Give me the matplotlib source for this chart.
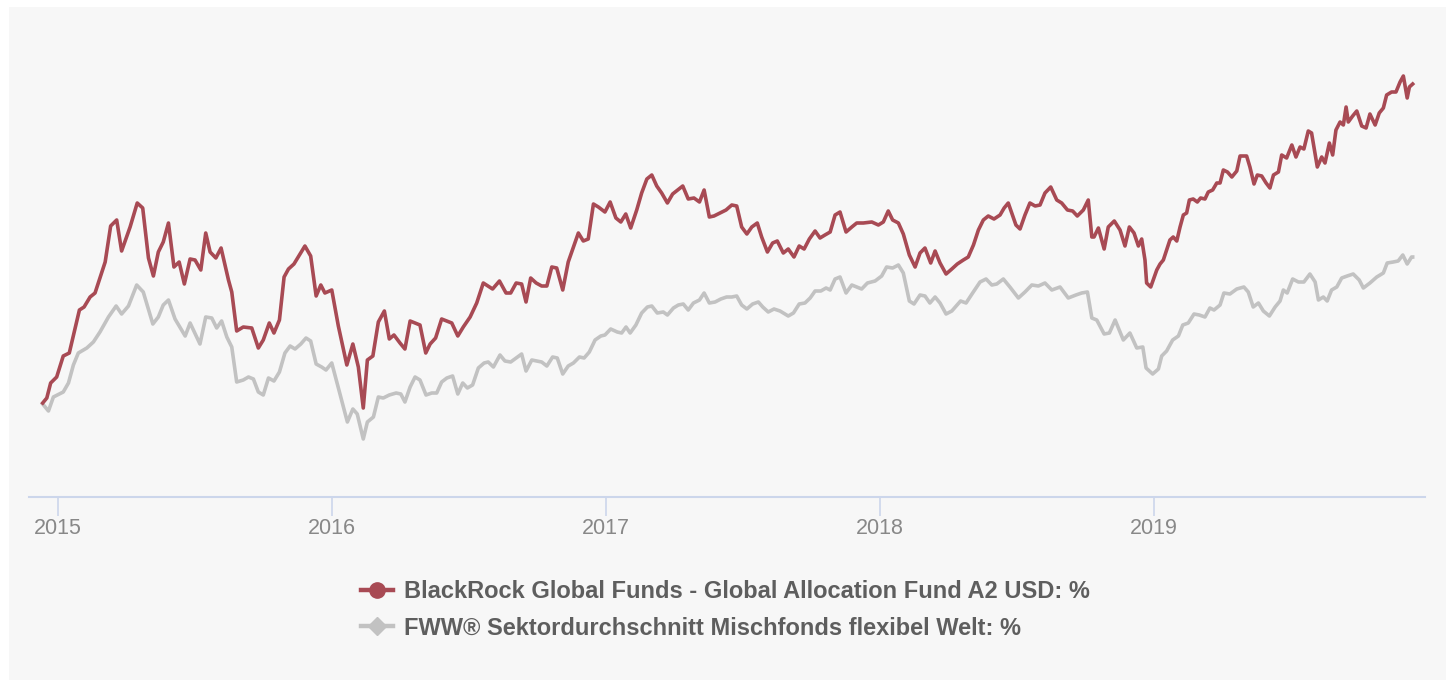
"""
BlackRock Global Allocation vs. FWW sector average, performance in %
"""
import matplotlib.pyplot as plt
from matplotlib.lines import Line2D
from matplotlib.patches import Rectangle

plt.rcParams.update({
    'font.family': ['Liberation Sans', 'DejaVu Sans'],
    'figure.dpi': 100,
})

RED = '#a84a54'
GREY = '#c2c2c2'
AXIS = '#ccd6eb'
PANEL = '#f7f7f7'

# Data (time as decimal year, value in %)
blackrock_t = [
    2014.944, 2014.959, 2014.973, 2014.995, 2015.019, 2015.041, 2015.078, 2015.095, 2015.117, 2015.135,
    2015.172, 2015.192, 2015.214, 2015.232, 2015.263, 2015.289, 2015.309, 2015.330, 2015.348, 2015.366,
    2015.384, 2015.403, 2015.423, 2015.442, 2015.461, 2015.482, 2015.500, 2015.521, 2015.539, 2015.555,
    2015.576, 2015.595, 2015.622, 2015.634, 2015.652, 2015.676, 2015.707, 2015.731, 2015.749, 2015.771,
    2015.788, 2015.808, 2015.825, 2015.841, 2015.861, 2015.881, 2015.901, 2015.922, 2015.942, 2015.959,
    2015.974, 2015.999, 2016.023, 2016.054, 2016.076, 2016.096, 2016.114, 2016.129, 2016.149, 2016.169,
    2016.191, 2016.209, 2016.226, 2016.248, 2016.266, 2016.285, 2016.321, 2016.342, 2016.358, 2016.378,
    2016.400, 2016.437, 2016.459, 2016.479, 2016.504, 2016.528, 2016.552, 2016.586, 2016.611, 2016.635,
    2016.652, 2016.672, 2016.692, 2016.708, 2016.725, 2016.745, 2016.765, 2016.784, 2016.802, 2016.820,
    2016.842, 2016.862, 2016.881, 2016.899, 2016.917, 2016.935, 2016.954, 2016.972, 2016.996, 2017.015,
    2017.036, 2017.054, 2017.072, 2017.090, 2017.112, 2017.130, 2017.149, 2017.167, 2017.185, 2017.203,
    2017.224, 2017.243, 2017.280, 2017.300, 2017.321, 2017.341, 2017.358, 2017.377, 2017.394, 2017.416,
    2017.438, 2017.459, 2017.477, 2017.495, 2017.514, 2017.532, 2017.552, 2017.568, 2017.589, 2017.608,
    2017.625, 2017.647, 2017.665, 2017.686, 2017.705, 2017.723, 2017.742, 2017.763, 2017.781, 2017.799,
    2017.818, 2017.836, 2017.854, 2017.876, 2017.897, 2017.915, 2017.939, 2017.970, 2017.994, 2018.012,
    2018.030, 2018.046, 2018.067, 2018.085, 2018.107, 2018.128, 2018.146, 2018.164, 2018.185, 2018.201,
    2018.219, 2018.241, 2018.262, 2018.282, 2018.304, 2018.322, 2018.341, 2018.359, 2018.377, 2018.395,
    2018.416, 2018.438, 2018.453, 2018.468, 2018.496, 2018.511, 2018.529, 2018.547, 2018.566, 2018.584,
    2018.602, 2018.623, 2018.645, 2018.663, 2018.684, 2018.703, 2018.720, 2018.742, 2018.760, 2018.773,
    2018.781, 2018.797, 2018.818, 2018.833, 2018.855, 2018.876, 2018.894, 2018.910, 2018.927, 2018.943,
    2018.955, 2018.967, 2018.973, 2018.988, 2018.997, 2019.010, 2019.022, 2019.034, 2019.046, 2019.058,
    2019.070, 2019.083, 2019.095, 2019.107, 2019.119, 2019.129, 2019.143, 2019.158, 2019.170, 2019.186,
    2019.198, 2019.214, 2019.229, 2019.241, 2019.253, 2019.268, 2019.284, 2019.302, 2019.314, 2019.338,
    2019.350, 2019.365, 2019.377, 2019.393, 2019.409, 2019.423, 2019.436, 2019.454, 2019.466, 2019.484,
    2019.503, 2019.518, 2019.533, 2019.547, 2019.563, 2019.575, 2019.596, 2019.612, 2019.624, 2019.640,
    2019.652, 2019.664, 2019.679, 2019.691, 2019.701, 2019.709, 2019.725, 2019.740, 2019.758, 2019.774,
    2019.788, 2019.807, 2019.822, 2019.837, 2019.849, 2019.867, 2019.883, 2019.898, 2019.910, 2019.924,
    2019.932, 2019.944,
]
blackrock_pct = [
    0.0, 0.5, 2.0, 2.6, 4.7, 5.0, 9.3, 9.6, 10.6, 11.0,
    14.1, 17.7, 18.3, 15.2, 17.6, 20.0, 19.5, 14.5, 12.7, 15.1,
    16.1, 18.0, 13.6, 14.1, 11.9, 14.4, 14.3, 13.3, 17.0, 15.1,
    14.5, 15.5, 12.3, 11.1, 7.2, 7.6, 7.5, 5.5, 6.3, 8.0,
    7.0, 8.3, 12.6, 13.4, 13.9, 14.8, 15.7, 14.7, 10.7, 11.8,
    11.0, 11.3, 7.7, 3.8, 5.9, 3.6, -0.5, 4.3, 4.7, 8.1,
    9.2, 6.4, 6.8, 6.0, 5.4, 8.2, 7.8, 5.0, 5.9, 6.5,
    8.4, 8.0, 6.7, 7.6, 8.6, 10.0, 12.0, 11.4, 12.2, 11.0,
    11.0, 12.0, 11.9, 10.1, 12.5, 12.0, 11.7, 11.7, 13.6, 13.5,
    11.3, 14.1, 15.6, 17.0, 16.2, 16.4, 19.9, 19.6, 19.1, 20.1,
    18.5, 18.1, 18.9, 17.5, 19.3, 21.0, 22.4, 22.8, 21.7, 21.0,
    20.0, 20.9, 21.7, 20.4, 20.5, 20.1, 21.3, 18.6, 18.7, 19.0,
    19.3, 19.8, 19.7, 17.6, 16.9, 17.6, 18.0, 16.6, 15.1, 16.0,
    16.2, 15.0, 15.4, 14.6, 15.7, 15.4, 16.4, 17.2, 16.5, 16.8,
    17.1, 18.8, 19.1, 17.1, 17.6, 18.0, 18.0, 18.1, 17.8, 18.1,
    19.2, 18.3, 18.0, 16.9, 14.8, 13.6, 15.0, 15.5, 14.0, 15.2,
    14.0, 12.9, 13.4, 13.9, 14.3, 14.6, 15.8, 17.3, 18.3, 18.7,
    18.4, 18.8, 19.5, 20.0, 17.8, 17.4, 18.8, 20.0, 19.7, 19.8,
    21.0, 21.6, 20.3, 20.0, 19.3, 19.2, 18.7, 19.3, 20.3, 16.6,
    16.6, 17.5, 15.4, 17.6, 18.2, 17.3, 15.7, 17.6, 17.0, 15.7,
    16.4, 14.3, 12.0, 11.6, 12.3, 13.3, 13.9, 14.3, 15.3, 16.3,
    16.6, 16.2, 17.6, 18.8, 19.0, 20.3, 20.4, 20.1, 20.5, 20.4,
    21.1, 21.3, 22.0, 22.0, 23.3, 23.1, 22.6, 23.2, 24.7, 24.7,
    23.6, 21.9, 22.8, 22.7, 22.0, 21.5, 22.8, 23.1, 24.8, 24.5,
    25.8, 24.6, 25.6, 25.4, 27.2, 27.0, 23.6, 24.6, 24.0, 26.0,
    24.8, 27.3, 28.1, 27.8, 29.6, 28.1, 28.7, 29.2, 27.7, 27.5,
    28.9, 27.8, 29.0, 29.5, 30.8, 31.1, 31.1, 32.1, 32.7, 30.5,
    31.6, 31.9,
]

fww_t = [
    2014.944, 2014.965, 2014.983, 2015.019, 2015.038, 2015.056, 2015.074, 2015.105, 2015.129, 2015.153,
    2015.184, 2015.212, 2015.232, 2015.257, 2015.287, 2015.311, 2015.346, 2015.366, 2015.384, 2015.403,
    2015.427, 2015.464, 2015.482, 2015.518, 2015.539, 2015.561, 2015.579, 2015.597, 2015.616, 2015.634,
    2015.652, 2015.676, 2015.695, 2015.713, 2015.731, 2015.749, 2015.768, 2015.788, 2015.808, 2015.828,
    2015.847, 2015.865, 2015.886, 2015.905, 2015.922, 2015.942, 2015.962, 2015.978, 2015.999, 2016.027,
    2016.056, 2016.076, 2016.092, 2016.114, 2016.129, 2016.151, 2016.169, 2016.187, 2016.209, 2016.234,
    2016.251, 2016.266, 2016.285, 2016.303, 2016.321, 2016.343, 2016.364, 2016.382, 2016.400, 2016.419,
    2016.440, 2016.459, 2016.477, 2016.494, 2016.513, 2016.534, 2016.555, 2016.570, 2016.589, 2016.613,
    2016.631, 2016.652, 2016.672, 2016.692, 2016.708, 2016.729, 2016.747, 2016.765, 2016.784, 2016.805,
    2016.822, 2016.842, 2016.862, 2016.881, 2016.903, 2016.920, 2016.939, 2016.960, 2016.981, 2016.996,
    2017.017, 2017.041, 2017.057, 2017.073, 2017.088, 2017.109, 2017.130, 2017.151, 2017.167, 2017.187,
    2017.209, 2017.224, 2017.246, 2017.264, 2017.282, 2017.300, 2017.319, 2017.341, 2017.358, 2017.377,
    2017.398, 2017.419, 2017.440, 2017.459, 2017.477, 2017.495, 2017.514, 2017.535, 2017.556, 2017.572,
    2017.592, 2017.613, 2017.635, 2017.665, 2017.684, 2017.705, 2017.726, 2017.745, 2017.763, 2017.784,
    2017.803, 2017.818, 2017.836, 2017.854, 2017.876, 2017.897, 2017.933, 2017.954, 2017.982, 2018.006,
    2018.024, 2018.046, 2018.067, 2018.085, 2018.107, 2018.124, 2018.146, 2018.164, 2018.182, 2018.201,
    2018.219, 2018.241, 2018.262, 2018.294, 2018.314, 2018.338, 2018.365, 2018.387, 2018.408, 2018.426,
    2018.450, 2018.474, 2018.505, 2018.529, 2018.554, 2018.578, 2018.602, 2018.627, 2018.657, 2018.687,
    2018.715, 2018.736, 2018.757, 2018.773, 2018.791, 2018.818, 2018.837, 2018.858, 2018.888, 2018.912,
    2018.937, 2018.959, 2018.971, 2018.995, 2019.016, 2019.028, 2019.046, 2019.068, 2019.089, 2019.105,
    2019.125, 2019.146, 2019.165, 2019.186, 2019.204, 2019.219, 2019.241, 2019.255, 2019.277, 2019.302,
    2019.328, 2019.344, 2019.362, 2019.381, 2019.399, 2019.421, 2019.442, 2019.460, 2019.472, 2019.486,
    2019.506, 2019.527, 2019.547, 2019.569, 2019.588, 2019.600, 2019.618, 2019.632, 2019.648, 2019.667,
    2019.685, 2019.705, 2019.727, 2019.749, 2019.764, 2019.788, 2019.813, 2019.837, 2019.851, 2019.873,
    2019.891, 2019.908, 2019.924, 2019.940, 2019.944,
]
fww_pct = [
    -0.1, -0.8, 0.6, 1.1, 2.0, 3.8, 5.0, 5.5, 6.1, 7.1,
    8.6, 9.7, 8.9, 9.7, 11.8, 11.1, 7.9, 8.6, 9.8, 10.3,
    8.4, 6.7, 8.0, 5.9, 8.6, 8.5, 7.5, 8.2, 6.6, 5.6,
    2.1, 2.3, 2.6, 2.4, 1.1, 0.8, 2.5, 2.2, 3.1, 5.0,
    5.7, 5.4, 5.9, 6.5, 6.2, 3.9, 3.6, 3.3, 4.0, 1.1,
    -1.9, -0.6, -1.1, -3.6, -1.9, -1.4, 0.6, 0.5, 0.8, 1.0,
    0.9, 0.1, 1.6, 2.6, 2.3, 0.8, 1.0, 1.0, 2.1, 2.5,
    2.7, 0.9, 2.0, 1.5, 1.8, 3.5, 4.0, 4.1, 3.6, 4.8,
    4.2, 4.1, 4.5, 4.9, 3.2, 4.3, 4.2, 4.1, 3.7, 4.6,
    4.5, 2.9, 3.7, 4.0, 4.6, 4.5, 5.1, 6.3, 6.7, 6.8,
    7.4, 7.1, 7.0, 7.6, 7.0, 7.8, 9.0, 9.6, 9.7, 9.0,
    9.1, 8.8, 9.5, 9.8, 9.9, 9.3, 10.0, 10.3, 11.0, 10.0,
    10.1, 10.4, 10.6, 10.6, 10.7, 9.8, 9.4, 9.9, 10.1, 9.6,
    9.1, 9.4, 9.2, 8.7, 9.0, 9.9, 10.0, 10.5, 11.2, 11.2,
    11.5, 11.3, 12.4, 12.6, 11.0, 11.8, 11.4, 12.0, 12.2, 12.7,
    13.6, 13.5, 13.8, 13.0, 10.2, 9.9, 10.8, 10.7, 10.0, 10.6,
    10.0, 8.9, 9.2, 10.2, 10.0, 11.0, 12.1, 12.4, 11.8, 11.9,
    12.4, 11.6, 10.5, 11.1, 11.8, 11.7, 12.0, 11.3, 11.6, 10.5,
    10.8, 11.0, 11.1, 8.5, 8.3, 6.9, 7.0, 8.3, 6.3, 7.0,
    5.5, 5.6, 3.5, 2.9, 3.4, 4.7, 5.2, 6.3, 6.7, 7.8,
    8.0, 8.9, 8.8, 8.6, 9.5, 9.3, 9.8, 11.0, 10.9, 11.4,
    11.6, 11.1, 9.6, 10.0, 9.2, 8.7, 9.6, 10.2, 11.3, 11.0,
    12.4, 12.1, 12.1, 12.9, 12.1, 10.3, 10.6, 10.2, 11.3, 11.6,
    12.5, 12.7, 12.9, 12.3, 11.5, 12.0, 12.6, 13.0, 14.0, 14.1,
    14.2, 14.8, 13.9, 14.6, 14.6,
]

years = [2015, 2016, 2017, 2018, 2019]
legend_labels = [
    'BlackRock Global Funds - Global Allocation Fund A2 USD: %',
    'FWW® Sektordurchschnitt Mischfonds flexibel Welt: %',
]

W, H = 1451, 680
fig = plt.figure(figsize=(W / 100, H / 100), dpi=100, facecolor='white')
fig.patches.append(Rectangle((9 / W, 0), (1446 - 9) / W, (H - 7) / H,
                             transform=fig.transFigure, facecolor=PANEL,
                             edgecolor='none', zorder=-10))

ax = fig.add_axes([29 / W, 1 - 497 / H, (1425 - 29) / W, (497 - 20) / H])
ax.set_facecolor('none')
ax.set_zorder(1)

ax.plot(fww_t, fww_pct, color=GREY, lw=2.6, solid_joinstyle='round', zorder=2)
ax.plot(blackrock_t, blackrock_pct, color=RED, lw=2.6, solid_joinstyle='round', zorder=3)

ax.set_xlim(2014.894, 2019.989)
ax.set_ylim(-9.4, 38.3)

for side in ['top', 'right', 'left']:
    ax.spines[side].set_visible(False)
ax.spines['bottom'].set_color(AXIS)
ax.spines['bottom'].set_linewidth(1.5)
ax.set_yticks([])
ax.set_xticks(years)
ax.set_xticklabels([str(y) for y in years])
ax.tick_params(axis='x', length=14, width=1.2, color=AXIS, labelcolor='#888888',
               labelsize=15.5, pad=1)

handles = [
    Line2D([], [], color=RED, lw=3.2, marker='o', markersize=11),
    Line2D([], [], color=GREY, lw=3.2, marker='D', markersize=9),
]
leg = fig.legend(handles, legend_labels, loc='upper left',
                 bbox_to_anchor=(361 / W, 1 - 580 / H), frameon=False,
                 prop={'size': 17, 'weight': 'bold'},
                 handlelength=1.36, handletextpad=0.47, labelspacing=0.57,
                 borderpad=0, borderaxespad=0)
for t in leg.get_texts():
    t.set_color('#5e5e5e')

fig.savefig('out.png', dpi=100, facecolor='white')
plt.close(fig)
